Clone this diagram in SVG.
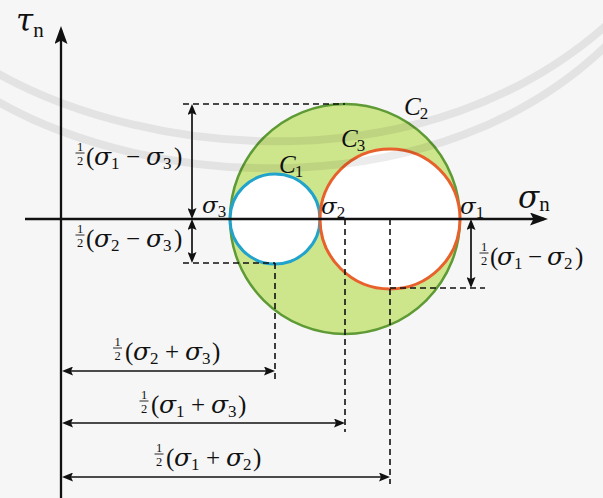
<svg xmlns="http://www.w3.org/2000/svg" width="603" height="498" viewBox="0 0 603 498">
<defs>
<style>
.t{font-family:"Liberation Serif","Times New Roman",serif;fill:#111;font-size:25px;}
.i{font-style:italic;}
.g{font-family:"DejaVu Serif",serif;font-style:italic;font-size:25px;}
.gp{font-family:"DejaVu Serif",serif;font-style:italic;font-size:23px;}
.s{font-size:17px;}
.f{font-size:12.5px;}
.gb{font-family:"DejaVu Serif",serif;font-style:italic;font-size:31px;}
.bs{font-size:21px;}
.ax{stroke:#111;stroke-width:2.3;fill:none;}
.dim{stroke:#111;stroke-width:1.7;fill:none;}
.dash{stroke:#111;stroke-width:1.6;stroke-dasharray:6 4;fill:none;}
.bar{stroke:#111;stroke-width:0.9;}
.wm{fill:none;stroke:#000;stroke-opacity:0.075;stroke-width:8;}
</style>
<marker id="ah" viewBox="0 0 11 9" refX="8" refY="4.5" markerWidth="11" markerHeight="9" markerUnits="userSpaceOnUse" orient="auto-start-reverse"><path d="M0,0 L11,4.5 L0,9 L2,4.5 z" fill="#111"/></marker>
<marker id="axh" viewBox="0 0 18 13" refX="14" refY="6.5" markerWidth="18" markerHeight="13" markerUnits="userSpaceOnUse" orient="auto"><path d="M0,0 L18,6.5 L0,13 L3.5,6.5 z" fill="#111"/></marker>
</defs>
<rect width="603" height="498" fill="#f6f6f6"/>

<g id="C2">
<circle cx="345" cy="219" r="115" fill="#cee68b" stroke="#5e9a35" stroke-width="2.5"/>
</g>
<g id="C1">
<circle cx="275" cy="219" r="45" fill="#ffffff" stroke="#22a3cc" stroke-width="3"/>
</g>
<g id="C3">
<circle cx="390" cy="219" r="70" fill="#ffffff" stroke="#e8612c" stroke-width="3"/>
</g>

<g id="connectors">
<line class="dash" x1="183" y1="104" x2="345" y2="104"/>
<line class="dash" x1="183" y1="263" x2="275" y2="263"/>
<line class="dash" x1="390" y1="288" x2="485" y2="288"/>
<line class="dash" x1="275" y1="263" x2="275" y2="381"/>
<line class="dash" x1="345" y1="219" x2="345" y2="432"/>
<line class="dash" x1="390" y1="219" x2="390" y2="484"/>
<line class="ax" x1="25" y1="219" x2="544" y2="219" marker-end="url(#axh)"/>
<line class="ax" x1="61" y1="498" x2="61" y2="30" marker-end="url(#axh)"/>
<line class="dim" x1="192" y1="107" x2="192" y2="216" marker-start="url(#ah)" marker-end="url(#ah)"/>
<line class="dim" x1="192" y1="222" x2="192" y2="260" marker-start="url(#ah)" marker-end="url(#ah)"/>
<line class="dim" x1="471" y1="222" x2="471" y2="285" marker-start="url(#ah)" marker-end="url(#ah)"/>
<line class="dim" x1="65" y1="371" x2="272" y2="371" marker-start="url(#ah)" marker-end="url(#ah)"/>
<line class="dim" x1="65" y1="423" x2="342" y2="423" marker-start="url(#ah)" marker-end="url(#ah)"/>
<line class="dim" x1="65" y1="477" x2="387" y2="477" marker-start="url(#ah)" marker-end="url(#ah)"/>
</g>

<g id="circle-labels">
<text class="t"><tspan class="i" x="279" y="173">C</tspan><tspan class="s" dx="-1" y="177">1</tspan></text>
<text class="t"><tspan class="i" x="341" y="147">C</tspan><tspan class="s" dx="-1" y="151">3</tspan></text>
<text class="t"><tspan class="i" x="404" y="115">C</tspan><tspan class="s" dx="-1" y="119">2</tspan></text>
</g>

<g id="axis-labels">
<text class="t"><tspan class="gp" x="202" y="213">σ</tspan><tspan class="s" y="217">3</tspan></text>
<text class="t"><tspan class="gp" x="321" y="214">σ</tspan><tspan class="s" y="218">2</tspan></text>
<text class="t"><tspan class="gp" x="460" y="214">σ</tspan><tspan class="s" y="218">1</tspan></text>
<text class="t"><tspan class="gb" x="518" y="208">σ</tspan><tspan class="bs" y="211">n</tspan></text>
<text class="t"><tspan class="gb" x="16" y="31">τ</tspan><tspan class="bs" y="37">n</tspan></text>
</g>

<g id="label-s1-s3">
<text class="t"><tspan class="f" x="76.9" y="151">1</tspan><tspan class="f" x="76.9" y="164.5">2</tspan><tspan x="86" y="165">(</tspan><tspan class="g" x="94">σ</tspan><tspan class="s" y="169">1</tspan><tspan x="126" y="165">−</tspan><tspan class="g" x="146">σ</tspan><tspan class="s" y="169">3</tspan><tspan x="174" y="165">)</tspan></text>
<line class="bar" x1="75.5" y1="153" x2="84.5" y2="153"/>
</g>
<g id="label-s2-s3">
<text class="t"><tspan class="f" x="76.9" y="233">1</tspan><tspan class="f" x="76.9" y="246.5">2</tspan><tspan x="86" y="247">(</tspan><tspan class="g" x="94">σ</tspan><tspan class="s" y="251">2</tspan><tspan x="126" y="247">−</tspan><tspan class="g" x="146">σ</tspan><tspan class="s" y="251">3</tspan><tspan x="174" y="247">)</tspan></text>
<line class="bar" x1="75.5" y1="235" x2="84.5" y2="235"/>
</g>
<g id="label-s1-s2">
<text class="t"><tspan class="f" x="480.9" y="251">1</tspan><tspan class="f" x="480.9" y="264.5">2</tspan><tspan x="490" y="265">(</tspan><tspan class="g" x="497">σ</tspan><tspan class="s" y="269">1</tspan><tspan x="528" y="265">−</tspan><tspan class="g" x="547">σ</tspan><tspan class="s" y="269">2</tspan><tspan x="575" y="265">)</tspan></text>
<line class="bar" x1="479.5" y1="253" x2="488.5" y2="253"/>
</g>
<g id="label-s2p3">
<text class="t"><tspan class="f" x="114.4" y="346">1</tspan><tspan class="f" x="114.4" y="359.5">2</tspan><tspan x="125" y="360">(</tspan><tspan class="g" x="133">σ</tspan><tspan class="s" y="364">2</tspan><tspan x="165" y="360">+</tspan><tspan class="g" x="185">σ</tspan><tspan class="s" y="364">3</tspan><tspan x="212" y="360">)</tspan></text>
<line class="bar" x1="113" y1="348" x2="122" y2="348"/>
</g>
<g id="label-s1p3">
<text class="t"><tspan class="f" x="140.9" y="399">1</tspan><tspan class="f" x="140.9" y="412.5">2</tspan><tspan x="151" y="413">(</tspan><tspan class="g" x="159">σ</tspan><tspan class="s" y="417">1</tspan><tspan x="191" y="413">+</tspan><tspan class="g" x="211">σ</tspan><tspan class="s" y="417">3</tspan><tspan x="238" y="413">)</tspan></text>
<line class="bar" x1="139.5" y1="401" x2="148.5" y2="401"/>
</g>
<g id="label-s1p2">
<text class="t"><tspan class="f" x="155.9" y="452">1</tspan><tspan class="f" x="155.9" y="465.5">2</tspan><tspan x="166" y="466">(</tspan><tspan class="g" x="174">σ</tspan><tspan class="s" y="470">1</tspan><tspan x="206" y="466">+</tspan><tspan class="g" x="226">σ</tspan><tspan class="s" y="470">2</tspan><tspan x="253" y="466">)</tspan></text>
<line class="bar" x1="154.5" y1="454" x2="163.5" y2="454"/>
</g>

<g id="watermark" class="wm">
<path d="M-5,72 C150,160 430,185 610,22"/>
<path d="M-5,100 C150,190 440,210 610,42"/>
</g>
</svg>
